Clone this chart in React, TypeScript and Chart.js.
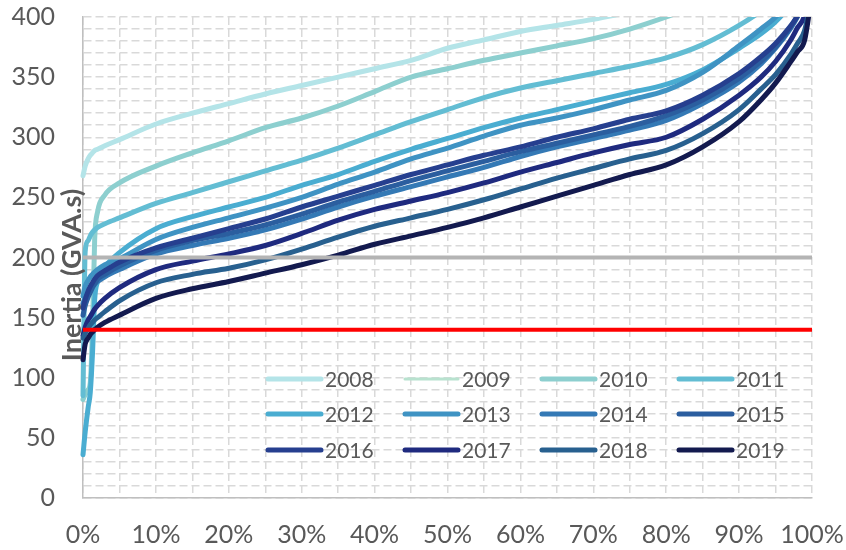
import React, { useEffect, useRef } from "react";
import { Chart, registerables } from "chart.js";

Chart.register(...registerables);

// ---- data ----
const X_PCT = [0, 0.3, 0.7, 1, 1.3, 1.6, 2, 3, 5, 10, 15, 20, 25, 30, 35, 40, 45, 50, 55, 60, 65, 70, 75, 80, 85, 90, 93, 95, 97, 98, 99, 100];

const YEARS = ["2008", "2009", "2010", "2011", "2012", "2013", "2014", "2015", "2016", "2017", "2018", "2019"];
const COLORS = ["#b4e4e8", "#b8e2cf", "#8dcfcf", "#63bdd3", "#4aadd1", "#3f93c3", "#3479b5", "#2b5e9f", "#263f8f", "#1f2a7f", "#28608f", "#131a4f"];

const Y2008 = [268, 276, 282, 285, 287, 289, 290, 293, 298, 311, 320, 328, 336, 343, 350, 357, 364, 374, 381, 388, 393, 398, 404, 410, 418, 430, 440, 450, 470, 490, 520, 600];
const Y2009: number[] = [];
const Y2010 = [82, 86, 90, 96, 140, 215, 238, 252, 262, 276, 287, 297, 308, 316, 326, 338, 350, 357, 364, 370, 376, 382, 390, 400, 412, 425, 440, 455, 480, 500, 530, 600];
const Y2011 = [85, 205, 214, 218, 221, 223, 225, 228, 233, 245, 254, 263, 272, 281, 291, 302, 313, 323, 333, 341, 347, 353, 359, 366, 377, 393, 405, 415, 435, 450, 470, 520];
const Y2012 = [36, 55, 75, 88, 120, 165, 180, 192, 204, 224, 234, 242, 250, 260, 269, 280, 290, 299, 308, 316, 323, 330, 337, 344, 356, 374, 386, 396, 410, 420, 440, 500];
const Y2013 = [168, 176, 181, 184, 186, 188, 190, 194, 199, 215, 225, 233, 241, 250, 261, 271, 282, 291, 301, 310, 316, 323, 331, 339, 354, 376, 390, 400, 415, 425, 445, 500];
const Y2014 = [162, 166, 170, 173, 176, 178, 180, 184, 190, 203, 210, 216, 223, 232, 242, 251, 259, 267, 275, 284, 292, 299, 306, 314, 328, 346, 361, 374, 390, 400, 415, 460];
const Y2015 = [152, 160, 167, 171, 175, 178, 182, 186, 193, 206, 214, 220, 227, 236, 246, 255, 264, 272, 280, 288, 295, 302, 309, 318, 331, 349, 363, 375, 391, 401, 415, 460];
const Y2016 = [158, 165, 172, 176, 179, 182, 185, 189, 196, 208, 216, 224, 232, 242, 251, 260, 269, 277, 285, 292, 300, 307, 315, 322, 335, 353, 367, 378, 392, 401, 415, 460];
const Y2017 = [135, 142, 148, 151, 154, 157, 160, 166, 175, 190, 197, 203, 210, 220, 231, 240, 247, 254, 262, 271, 279, 287, 294, 300, 315, 335, 350, 363, 380, 391, 402, 440];
const Y2018 = [133, 137, 141, 144, 146, 148, 150, 155, 164, 179, 186, 191, 198, 207, 217, 226, 233, 240, 248, 257, 266, 274, 282, 289, 303, 323, 340, 352, 368, 378, 389, 420];
const Y2019 = [115, 128, 133, 136, 138, 140, 142, 146, 152, 166, 174, 180, 187, 194, 202, 211, 218, 225, 233, 242, 251, 260, 269, 277, 292, 313, 331, 345, 362, 371, 381, 420];

const SERIES = [Y2008, Y2009, Y2010, Y2011, Y2012, Y2013, Y2014, Y2015, Y2016, Y2017, Y2018, Y2019];

const REF_GRAY = 200;
const REF_RED = 140;

const Y_TITLE = "Inertia (GVA.s)";
const FONT = "Lato";
const TEXT_COLOR = "#595959";

const legendPlugin = {
  id: "insideLegend",
  afterDraw(chart: any) {
    const ctx = chart.ctx;
    const colX = [266, 403, 540, 677];
    const rowY = [379, 414, 450];
    ctx.save();
    ctx.font = `21px ${FONT}`;
    ctx.textBaseline = "middle";
    ctx.textAlign = "left";
    YEARS.forEach((yr, i) => {
      const c = i % 4;
      const r = Math.floor(i / 4);
      const x = colX[c];
      const y = rowY[r];
      ctx.beginPath();
      ctx.lineCap = "round";
      ctx.lineWidth = i === 1 ? 3 : 5;
      ctx.strokeStyle = COLORS[i];
      ctx.moveTo(x + 2, y);
      ctx.lineTo(x + 55, y);
      ctx.stroke();
      ctx.fillStyle = TEXT_COLOR;
      ctx.fillText(yr, x + 59, y + 1);
    });
    ctx.restore();
  },
};

const yTitlePlugin = {
  id: "overlayYTitle",
  afterDraw(chart: any) {
    const ctx = chart.ctx;
    ctx.save();
    ctx.translate(81, 275);
    ctx.rotate(-Math.PI / 2);
    ctx.font = `bold 27px ${FONT}`;
    ctx.fillStyle = TEXT_COLOR;
    ctx.textAlign = "center";
    ctx.textBaseline = "alphabetic";
    ctx.fillText(Y_TITLE, 0, 0);
    ctx.restore();
  },
};

export default function App() {
  const ref = useRef<HTMLCanvasElement>(null);

  useEffect(() => {
    if (!ref.current) return;
    const datasets: any[] = SERIES.map((vals, i) => ({
      label: YEARS[i],
      data: vals.map((v, j) => ({ x: X_PCT[j], y: v })),
      borderColor: COLORS[i],
      backgroundColor: COLORS[i],
      borderWidth: i === 1 ? 3 : 5,
      pointRadius: 0,
      fill: false,
      cubicInterpolationMode: "monotone",
      borderJoinStyle: "round",
      borderCapStyle: "round",
      order: -i,
      clip: { left: 5, top: 0, right: 0, bottom: 5 },
    }));
    datasets.push({
      label: "ref200",
      data: [{ x: 0, y: REF_GRAY }, { x: 100, y: REF_GRAY }],
      borderColor: "#b4b4b4",
      borderWidth: 4,
      pointRadius: 0,
      order: -100,
    });
    datasets.push({
      label: "ref140",
      data: [{ x: 0, y: REF_RED }, { x: 100, y: REF_RED }],
      borderColor: "#ff0000",
      borderWidth: 4,
      pointRadius: 0,
      order: -101,
    });

    const chart = new Chart(ref.current, {
      type: "line",
      data: { datasets },
      options: {
        animation: false,
        responsive: false,
        devicePixelRatio: 1,
        layout: { padding: { top: 17, right: 34, left: 0, bottom: 0 } },
        plugins: {
          legend: { display: false },
          tooltip: { enabled: false },
          title: { display: false },
        },
        scales: {
          x: {
            type: "linear",
            min: 0,
            max: 100,
            afterFit: (s: any) => {
              s.height = 52;
              s.paddingLeft = 0;
              s.paddingRight = 0;
            },
            ticks: {
              stepSize: 5,
              autoSkip: false,
              maxRotation: 0,
              minRotation: 0,
              padding: 22,
              color: TEXT_COLOR,
              font: { family: FONT, size: 25 },
              callback: (v: any) => (Number(v) % 10 === 0 ? `${v}%` : ""),
            },
            grid: { color: "#d9d9d9", lineWidth: 1.5, drawTicks: false },
            border: { display: true, color: "#bfbfbf", width: 1.5, dash: [8, 4] },
          },
          y: {
            type: "linear",
            min: 0,
            max: 400,
            afterFit: (s: any) => {
              s.width = 83;
              s.paddingTop = 0;
              s.paddingBottom = 0;
            },
            ticks: {
              stepSize: 10,
              autoSkip: false,
              padding: 28,
              color: TEXT_COLOR,
              font: { family: FONT, size: 25 },
              callback: (v: any) => (Number(v) % 50 === 0 ? `${v}` : ""),
            },
            grid: { color: "#d9d9d9", lineWidth: 1.5, drawTicks: false },
            border: { display: true, color: "#bfbfbf", width: 1.5, dash: [8, 4] },
          },
        },
      },
      plugins: [legendPlugin, yTitlePlugin],
    });
    return () => chart.destroy();
  }, []);

  return (
    <div style={{ position: "absolute", left: 0, top: 0, width: 846, height: 550, background: "#fff" }}>
      <canvas ref={ref} width={846} height={550} style={{ width: 846, height: 550, display: "block" }} />
    </div>
  );
}
